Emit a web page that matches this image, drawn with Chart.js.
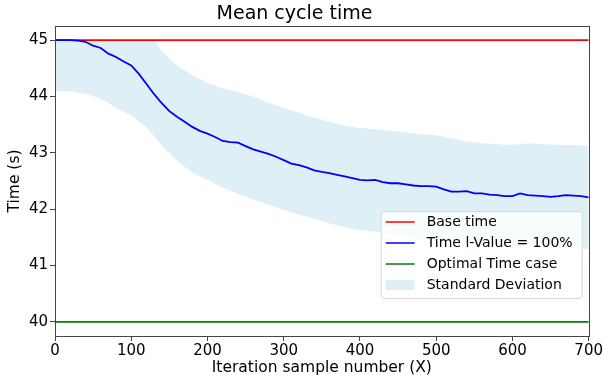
<!DOCTYPE html>
<html>
<head>
<meta charset="utf-8">
<script src="https://cdn.jsdelivr.net/npm/chart.js@4.4.0/dist/chart.umd.min.js"></script>
<style>
  html, body { margin: 0; padding: 0; background: #fff; overflow: hidden; }
  #wrap { width: 604px; height: 375px; }
</style>
</head>
<body>
<div id="wrap"><canvas id="chart" width="604" height="375"></canvas></div>
<script>
// values
const meanIterations = [0, 10, 20, 30, 40, 50, 60, 70, 80, 90, 100, 110, 120, 130, 140, 150, 160, 170, 180, 190,
    200, 210, 220, 230, 240, 250, 260, 270, 280, 290, 300, 310, 320, 330, 340, 350, 360, 370, 380, 390,
    400, 410, 420, 430, 440, 450, 460, 470, 480, 490, 500, 510, 520, 530, 540, 550, 560, 570, 580, 590,
    600, 610, 620, 630, 640, 650, 660, 670, 680, 690, 700];
const meanTime = [45.00, 45.00, 45.00, 44.99, 44.97, 44.90, 44.86, 44.76, 44.70, 44.62, 44.55, 44.40, 44.22, 44.04,
    43.88, 43.74, 43.64, 43.55, 43.46, 43.39, 43.34, 43.28, 43.21, 43.19, 43.18, 43.12, 43.06, 43.02,
    42.98, 42.93, 42.87, 42.81, 42.78, 42.74, 42.69, 42.66, 42.64, 42.61, 42.58, 42.55, 42.52, 42.51,
    42.52, 42.48, 42.46, 42.46, 42.44, 42.42, 42.41, 42.41, 42.40, 42.35, 42.31, 42.31, 42.32, 42.28,
    42.28, 42.26, 42.25, 42.23, 42.23, 42.28, 42.25, 42.24, 42.23, 42.22, 42.23, 42.25, 42.24, 42.23, 42.21];

const bandIterations = [0, 20, 40, 60, 80, 100, 120, 130, 140, 160, 180, 200, 220, 240, 260, 280, 300, 320, 340,
    360, 380, 400, 420, 440, 460, 480, 500, 520, 540, 560, 580, 600, 620, 640, 660, 680, 700];
const upperStd = [45.00, 45.00, 45.00, 45.00, 45.00, 45.00, 45.00, 45.00, 44.80, 44.55, 44.38, 44.24, 44.14, 44.08,
    44.00, 43.89, 43.80, 43.71, 43.62, 43.55, 43.48, 43.44, 43.42, 43.39, 43.36, 43.33, 43.31, 43.25,
    43.20, 43.17, 43.15, 43.14, 43.17, 43.15, 43.14, 43.14, 43.12];
const lowerStd = [44.10, 44.09, 44.05, 43.96, 43.80, 43.66, 43.45, 43.30, 43.13, 42.86, 42.65, 42.52, 42.38, 42.27,
    42.17, 42.08, 41.99, 41.90, 41.83, 41.75, 41.68, 41.63, 41.60, 41.56, 41.52, 41.48, 41.47, 41.42,
    41.39, 41.37, 41.35, 41.33, 41.34, 41.32, 41.31, 41.30, 41.30];

const baseTime = 45;
const optimalTime = 40;
const xTicks = [0, 100, 200, 300, 400, 500, 600, 700];
const yTicks = [40, 41, 42, 43, 44, 45];

const FONT = "'DejaVu Sans', sans-serif";
const BAND = 'rgba(173, 216, 230, 0.4)';

const toPoints = (xs, ys) => xs.map((x, i) => ({x: x, y: ys[i]}));
const flat = (v) => [{x: 0, y: v}, {x: 700, y: v}];

const legendItems = [
    {label: 'Base time', color: '#ff0000', patch: false},
    {label: 'Time l-Value = 100%', color: '#0000ff', patch: false},
    {label: 'Optimal Time case', color: '#008000', patch: false},
    {label: 'Standard Deviation', color: BAND, patch: true}
];

// axes frame + legend inside the plot, like matplotlib does
const frameAndLegend = {
    id: 'frameAndLegend',
    afterDatasetsDraw(chart) {
        const {ctx, chartArea: a} = chart;
        ctx.save();
        ctx.strokeStyle = '#444';
        ctx.lineWidth = 1;
        ctx.strokeRect(Math.round(a.left) + 0.5, Math.round(a.top) + 0.5,
            Math.round(a.right - a.left), Math.round(a.bottom - a.top));

        const w = 201, h = 87;
        const lx = a.right - 7 - w, ly = a.bottom - 38 - h;
        ctx.beginPath();
        ctx.roundRect(lx + 0.5, ly + 0.5, w, h, 3);
        ctx.fillStyle = 'rgba(255,255,255,0.8)';
        ctx.fill();
        ctx.strokeStyle = '#d6d6d6';
        ctx.stroke();

        ctx.font = '14px ' + FONT;
        ctx.textBaseline = 'middle';
        ctx.textAlign = 'left';
        legendItems.forEach((it, i) => {
            const cy = ly + 11 + i * 21;
            if (it.patch) {
                ctx.fillStyle = it.color;
                ctx.fillRect(lx + 5, cy - 5, 29, 10);
            } else {
                ctx.strokeStyle = it.color;
                ctx.lineWidth = 1.5;
                ctx.beginPath();
                ctx.moveTo(lx + 5, cy);
                ctx.lineTo(lx + 34, cy);
                ctx.stroke();
            }
            ctx.fillStyle = '#000';
            ctx.fillText(it.label, lx + 46, cy);
        });
        ctx.restore();
    }
};

new Chart(document.getElementById('chart'), {
    type: 'line',
    data: {
        datasets: [
            {label: 'upper', data: toPoints(bandIterations, upperStd), borderWidth: 0, backgroundColor: BAND,
                fill: '+1', pointRadius: 0, order: 5},
            {label: 'lower', data: toPoints(bandIterations, lowerStd), borderWidth: 0, fill: false,
                pointRadius: 0, order: 6},
            {label: 'Base time', data: flat(baseTime), borderColor: '#ff0000', borderWidth: 1.8,
                pointRadius: 0, fill: false, order: 2},
            {label: 'Time l-Value = 100%', data: toPoints(meanIterations, meanTime), borderColor: '#0000ff',
                borderWidth: 1.8, pointRadius: 0, fill: false, order: 1},
            {label: 'Optimal Time case', data: flat(optimalTime), borderColor: '#008000', borderWidth: 1.8,
                pointRadius: 0, fill: false, order: 3}
        ]
    },
    options: {
        responsive: false,
        animation: false,
        layout: {padding: {left: 0, right: 15, top: 0, bottom: 0}},
        plugins: {
            legend: {display: false},
            tooltip: {enabled: false},
            title: {
                display: true,
                text: 'Mean cycle time',
                color: '#000',
                font: {family: FONT, size: 19, weight: 'normal', lineHeight: 1.2},
                padding: {top: 3, bottom: 0.2}
            }
        },
        scales: {
            x: {
                type: 'linear',
                min: 0,
                max: 700,
                afterBuildTicks: (s) => { s.ticks = xTicks.map(v => ({value: v})); },
                afterFit: (s) => { s.height = 39; },
                grid: {drawOnChartArea: false, drawTicks: true, tickLength: 5, tickColor: '#444'},
                border: {display: false},
                ticks: {color: '#000', padding: 1, maxRotation: 0, font: {family: FONT, size: 15}},
                title: {display: true, text: 'Iteration sample number (X)', color: '#000',
                    font: {family: FONT, size: 15.5, lineHeight: 0.9}, padding: 0}
            },
            y: {
                type: 'linear',
                min: 39.75,
                max: 45.25,
                afterBuildTicks: (s) => { s.ticks = yTicks.map(v => ({value: v})); },
                afterFit: (s) => { s.width = 55; },
                grid: {drawOnChartArea: false, drawTicks: true, tickLength: 5, tickColor: '#444'},
                border: {display: false},
                ticks: {color: '#000', padding: 2, font: {family: FONT, size: 15}},
                title: {display: true, text: 'Time (s)', color: '#000',
                    font: {family: FONT, size: 15.5, lineHeight: 1.2}, padding: {top: 6, bottom: 0}}
            }
        }
    },
    plugins: [frameAndLegend]
});
</script>
</body>
</html>
